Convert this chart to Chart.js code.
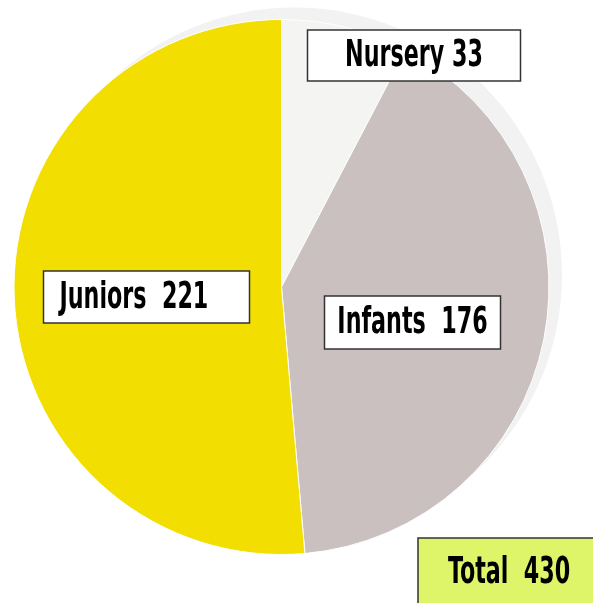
<!DOCTYPE html>
<html>
<head>
<meta charset="utf-8">
<script src="https://cdn.jsdelivr.net/npm/chart.js@4/dist/chart.umd.min.js"></script>
<style>
  html, body { margin: 0; padding: 0; background: #ffffff; }
  #wrap { width: 593px; height: 603px; position: relative; }
</style>
</head>
<body>
<div id="wrap"><canvas id="c" width="593" height="603"></canvas></div>
<script>
const categories = ['Nursery', 'Infants', 'Juniors'];
const values = [33, 176, 221];
const sliceColors = ['#f4f4f2', '#c9c0bf', '#f2de00'];
const labelTexts = ['Nursery 33', 'Infants  176', 'Juniors  221'];
const totalText = 'Total  ' + values.reduce((a, b) => a + b, 0);

const FONT = "bold 38px 'Liberation Sans Narrow', 'DejaVu Sans Condensed', sans-serif";
const SQUEEZE = 0.65;

// box layout relative to pie centre (dx, dy of box top-left; width; height; text align)
const labelBoxes = [
  { dx: 26, dy: -257, w: 213, h: 51, align: 'center' },
  { dx: 43, dy: 9, w: 176, h: 53, align: 'center' },
  { dx: -238, dy: -16, w: 206, h: 52, align: 'left', pad: 16 }
];

const shadowPlugin = {
  id: 'shadow',
  beforeDatasetsDraw(chart) {
    const arc = chart.getDatasetMeta(0).data[0];
    if (!arc) return;
    const ctx = chart.ctx;
    ctx.save();
    ctx.fillStyle = '#f2f2f2';
    ctx.beginPath();
    ctx.arc(arc.x + 13, arc.y - 12, arc.outerRadius, 0, Math.PI * 2);
    ctx.fill();
    ctx.restore();
  }
};

function drawText(ctx, text, x, y, align) {
  ctx.save();
  ctx.font = FONT;
  ctx.textBaseline = 'middle';
  const w = ctx.measureText(text).width * SQUEEZE;
  let left = align === 'center' ? x - w / 2 : x;
  ctx.translate(left, y);
  ctx.scale(SQUEEZE, 1);
  ctx.textAlign = 'left';
  ctx.fillStyle = '#000';
  ctx.fillText(text, 0, 0);
  ctx.restore();
}

const labelPlugin = {
  id: 'boxLabels',
  afterDatasetsDraw(chart) {
    const arc = chart.getDatasetMeta(0).data[0];
    if (!arc) return;
    const cx = arc.x, cy = arc.y;
    const ctx = chart.ctx;
    labelBoxes.forEach((b, i) => {
      const x = cx + b.dx, y = cy + b.dy;
      ctx.save();
      ctx.fillStyle = '#ffffff';
      ctx.fillRect(x, y, b.w, b.h);
      ctx.strokeStyle = '#333333';
      ctx.lineWidth = 1.5;
      ctx.strokeRect(x, y, b.w, b.h);
      ctx.restore();
      if (b.align === 'center') drawText(ctx, labelTexts[i], x + b.w / 2, y + b.h / 2 + 1, 'center');
      else drawText(ctx, labelTexts[i], x + b.pad, y + b.h / 2 + 1, 'left');
    });
    // total box at bottom-right corner
    const W = chart.width, H = chart.height;
    const tx = W - 175, ty = H - 65;
    ctx.save();
    ctx.fillStyle = '#def56a';
    ctx.fillRect(tx, ty, 180, 70);
    ctx.strokeStyle = '#333333';
    ctx.lineWidth = 1.5;
    ctx.strokeRect(tx, ty, 180, 70);
    ctx.restore();
    drawText(ctx, totalText, tx + 30, ty + 35, 'left');
  }
};

new Chart(document.getElementById('c'), {
  type: 'pie',
  data: {
    labels: categories,
    datasets: [{
      data: values,
      backgroundColor: sliceColors,
      borderColor: '#ffffff',
      borderWidth: 1
    }]
  },
  options: {
    responsive: false,
    animation: false,
    layout: { padding: { left: 13, right: 43, top: 19, bottom: 48 } },
    plugins: {
      legend: { display: false },
      tooltip: { enabled: false }
    }
  },
  plugins: [shadowPlugin, labelPlugin]
});
</script>
</body>
</html>
